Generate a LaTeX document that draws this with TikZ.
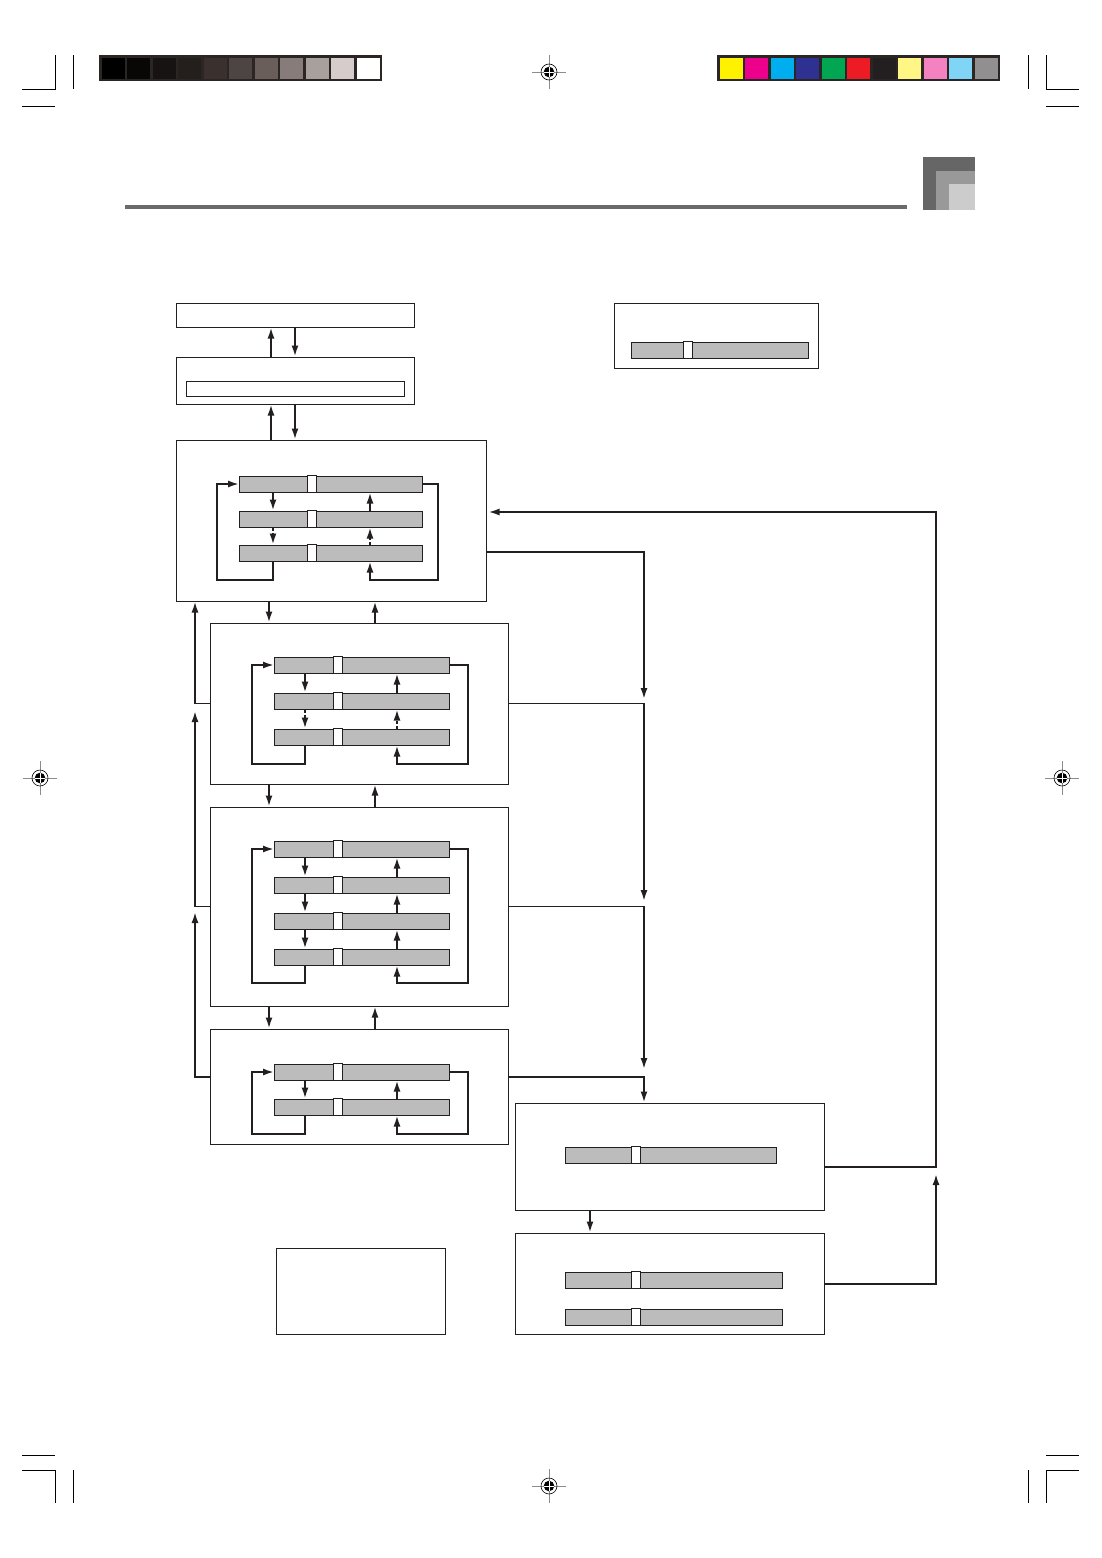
\documentclass[tikz,border=0pt]{standalone}
\usepackage{tikz}
\usetikzlibrary{arrows.meta}

\definecolor{ink}{HTML}{231F20}
\definecolor{lcdgray}{HTML}{BCBCBC}
\definecolor{rulegray}{HTML}{6A6A6A}
\definecolor{thumbdark}{HTML}{666666}
\definecolor{thumbmid}{HTML}{999999}
\definecolor{thumblight}{HTML}{CCCCCC}
\definecolor{barframe}{HTML}{2B2523}

\begin{document}
\begin{tikzpicture}[
  x=1pt,y=-1pt,
  line join=miter,
  >={Latex[length=11pt,width=7pt]},
  frame/.style={draw=ink,line width=1pt,inner sep=0pt},
  lcd/.style={draw=ink,fill=lcdgray,line width=1pt,inner sep=0pt,minimum height=16pt,anchor=west},
  gapcell/.style={draw=ink,fill=white,line width=1pt},
  conn/.style={draw=ink,line width=1.9pt},
  dotconn/.style={conn,dash pattern=on 3pt off 2pt},
  crop/.style={draw=black,line width=0.9pt}
]
  % name, left x, mid y, width, offset of the white cell
  \def\lcdbar#1#2#3#4#5{%
    \node[lcd,minimum width=#4] (#1) at (#2,#3) {};
    \draw[gapcell] ([xshift=#5]#1.south west) rectangle ([xshift=#5+9]#1.north west);
  }
  \def\regmark#1#2{%
    \draw[black!45,line width=0.8pt] (#1-17,#2) -- (#1+17,#2) (#1,#2-17) -- (#1,#2+17);
    \draw[black,line width=0.6pt] (#1,#2) circle (8pt);
    \fill[black] (#1,#2) circle (5.3pt);
    \draw[white,line width=0.8pt] (#1-5.3,#2) -- (#1+5.3,#2) (#1,#2-5.3) -- (#1,#2+5.3);
  }

  \fill[white] (0,0) rectangle (1101,1558);
  \useasboundingbox (0,0) rectangle (1101,1558);

  % Printer's marks.
  \draw[crop] (22,89) -- (55,89) -- (55,55) (73,55) -- (73,89) (22,106) -- (55,106);
  \draw[crop] (1079,89) -- (1046,89) -- (1046,55) (1028,55) -- (1028,89) (1046,106) -- (1079,106);
  \draw[crop] (22,1455) -- (55,1455) (22,1470) -- (55,1470) -- (55,1503) (73,1470) -- (73,1503);
  \draw[crop] (1046,1455) -- (1079,1455) (1079,1470) -- (1046,1470) -- (1046,1503) (1028,1470) -- (1028,1503);
  \regmark{549}{72}
  \regmark{549}{1486}
  \regmark{40}{778}
  \regmark{1062}{778}

  % Colour bars.
  \fill[barframe] (99,55) rectangle (382,81);
  \foreach \shade [count=\i from 0] in {000000,080706,161312,231F1C,3A302E,4E4443,6A5E5B,887C7A,A8A09D,D5CCCB,FFFFFF} {
    \definecolor{cellc}{HTML}{\shade}
    \fill[cellc] (101.5+\i*25.5,57.5) rectangle ++(23,21);
  }
  \fill[barframe] (717,55) rectangle (1000,81);
  \foreach \shade [count=\i from 0] in {FFF200,EC008C,00AEEF,2E3192,00A651,ED1C24,231F20,FFF685,F482C1,80D4F6,918F8F} {
    \definecolor{cellc}{HTML}{\shade}
    \fill[cellc] (719.5+\i*25.5,57.5) rectangle ++(23,21);
  }

  % Page header.
  \fill[rulegray] (125,205) rectangle (907,209);
  \fill[thumbdark] (923,157) rectangle (975,210);
  \fill[thumbmid] (936,171) rectangle (975,210);
  \fill[thumblight] (949,184) rectangle (975,210);

  % Boxes.
  \node[frame,minimum width=238,minimum height=24] (boxA) at (295,315) {};
  \node[frame,minimum width=238,minimum height=47] (boxB) at (295,380.5) {};
  \node[frame,minimum width=218,minimum height=15] (boxBbar) at (295,388.5) {};
  \node[frame,minimum width=310,minimum height=161] (boxC) at (331,520.5) {};
  \node[frame,minimum width=298,minimum height=161] (boxD) at (359,703.5) {};
  \node[frame,minimum width=298,minimum height=199] (boxE) at (359,906.5) {};
  \node[frame,minimum width=298,minimum height=115] (boxF) at (359,1086.5) {};
  \node[frame,minimum width=309,minimum height=107] (boxG) at (669.5,1156.5) {};
  \node[frame,minimum width=309,minimum height=101] (boxH) at (669.5,1283.5) {};
  \node[frame,minimum width=204,minimum height=65] (boxI) at (716,335.5) {};
  \node[frame,minimum width=169,minimum height=86] (boxJ) at (360.5,1291) {};

  % Display bars.
  \foreach \row/\y in {1/484,2/519,3/553} \lcdbar{c\row}{239}{\y}{183}{68};
  \foreach \row/\y in {1/665,2/701,3/737} \lcdbar{d\row}{274}{\y}{175}{59};
  \foreach \row/\y in {1/849,2/885,3/921,4/957} \lcdbar{e\row}{274}{\y}{175}{59};
  \foreach \row/\y in {1/1072,2/1107} \lcdbar{f\row}{274}{\y}{175}{59};
  \lcdbar{g1}{565}{1155}{211}{66}
  \lcdbar{h1}{565}{1280}{217}{66}
  \lcdbar{h2}{565}{1317}{217}{66}
  \lcdbar{i1}{631}{350}{177}{52}

  % Loops inside the boxes.
  \draw[conn,->] ([xshift=34]c1.south west) -- ([xshift=34]c2.north west);
  \draw[dotconn,->] ([xshift=34]c2.south west) -- ([xshift=34]c3.north west);
  \draw[conn,->] ([xshift=131]c2.north west) -- ([xshift=131]c1.south west);
  \draw[dotconn,->] ([xshift=131]c3.north west) -- ([xshift=131]c2.south west);
  \draw[conn,->] ([xshift=34]c3.south west) |- (217,580) |- (c1.west);
  \draw[conn,->] (c1.east) -| (438,580) -| ([xshift=131]c3.south west);

  \draw[conn,->] ([xshift=31]d1.south west) -- ([xshift=31]d2.north west);
  \draw[dotconn,->] ([xshift=31]d2.south west) -- ([xshift=31]d3.north west);
  \draw[conn,->] ([xshift=123]d2.north west) -- ([xshift=123]d1.south west);
  \draw[dotconn,->] ([xshift=123]d3.north west) -- ([xshift=123]d2.south west);
  \draw[conn,->] ([xshift=31]d3.south west) |- (252,764) |- (d1.west);
  \draw[conn,->] (d1.east) -| (468,764) -| ([xshift=123]d3.south west);

  \foreach \a/\b in {e1/e2,e2/e3,e3/e4,f1/f2} {
    \draw[conn,->] ([xshift=31]\a.south west) -- ([xshift=31]\b.north west);
    \draw[conn,->] ([xshift=123]\b.north west) -- ([xshift=123]\a.south west);
  }
  \draw[conn,->] ([xshift=31]e4.south west) |- (252,983) |- (e1.west);
  \draw[conn,->] (e1.east) -| (468,983) -| ([xshift=123]e4.south west);
  \draw[conn,->] ([xshift=31]f2.south west) |- (252,1134) |- (f1.west);
  \draw[conn,->] (f1.east) -| (468,1134) -| ([xshift=123]f2.south west);

  % Links between the stacked boxes.
  \draw[conn,->] (boxB.north -| 271,0) -- (boxA.south -| 271,0);
  \draw[conn,->] (boxA.south -| 295,0) -- (boxB.north -| 295,0);
  \draw[conn,->] (boxC.north -| 271,0) -- (boxB.south -| 271,0);
  \draw[conn,->] (boxB.south -| 295,0) -- (boxC.north -| 295,0);
  \foreach \upper/\lower in {boxC/boxD,boxD/boxE,boxE/boxF} {
    \draw[conn,->] (\upper.south -| 269,0) -- (\lower.north -| 269,0);
    \draw[conn,->] (\lower.north -| 375,0) -- (\upper.south -| 375,0);
  }
  \draw[conn,->] (boxG.south -| 590,0) -- (boxH.north -| 590,0);

  % Return path on the left.
  \coordinate (tipD) at (195,711);
  \coordinate (tipE) at (195,912);
  \draw[conn,->] (boxD.west) -| (boxC.south -| 195,0);
  \draw[conn,->] (boxE.west) -| (tipD);
  \draw[conn,->] (boxF.west |- 0,1077) -| (tipE);

  % Paths on the right.
  \coordinate (tipRC) at (644,699);
  \coordinate (tipRD) at (644,901);
  \coordinate (tipRE) at (644,1069);
  \coordinate (tipH) at (936,1174);
  \draw[conn,->] (boxC.east |- 0,552) -| (tipRC);
  \draw[conn,->] (boxD.east) -| (tipRD);
  \draw[conn,->] (boxE.east) -| (tipRE);
  \draw[conn,->] (boxF.east |- 0,1077) -| (boxG.north -| 644,0);
  \draw[conn,->,shorten >=2pt] (boxG.east |- 0,1167) -| (936,512) -- (boxC.east |- 0,512);
  \draw[conn,->] (boxH.east |- 0,1284) -| (tipH);
\end{tikzpicture}
\end{document}
